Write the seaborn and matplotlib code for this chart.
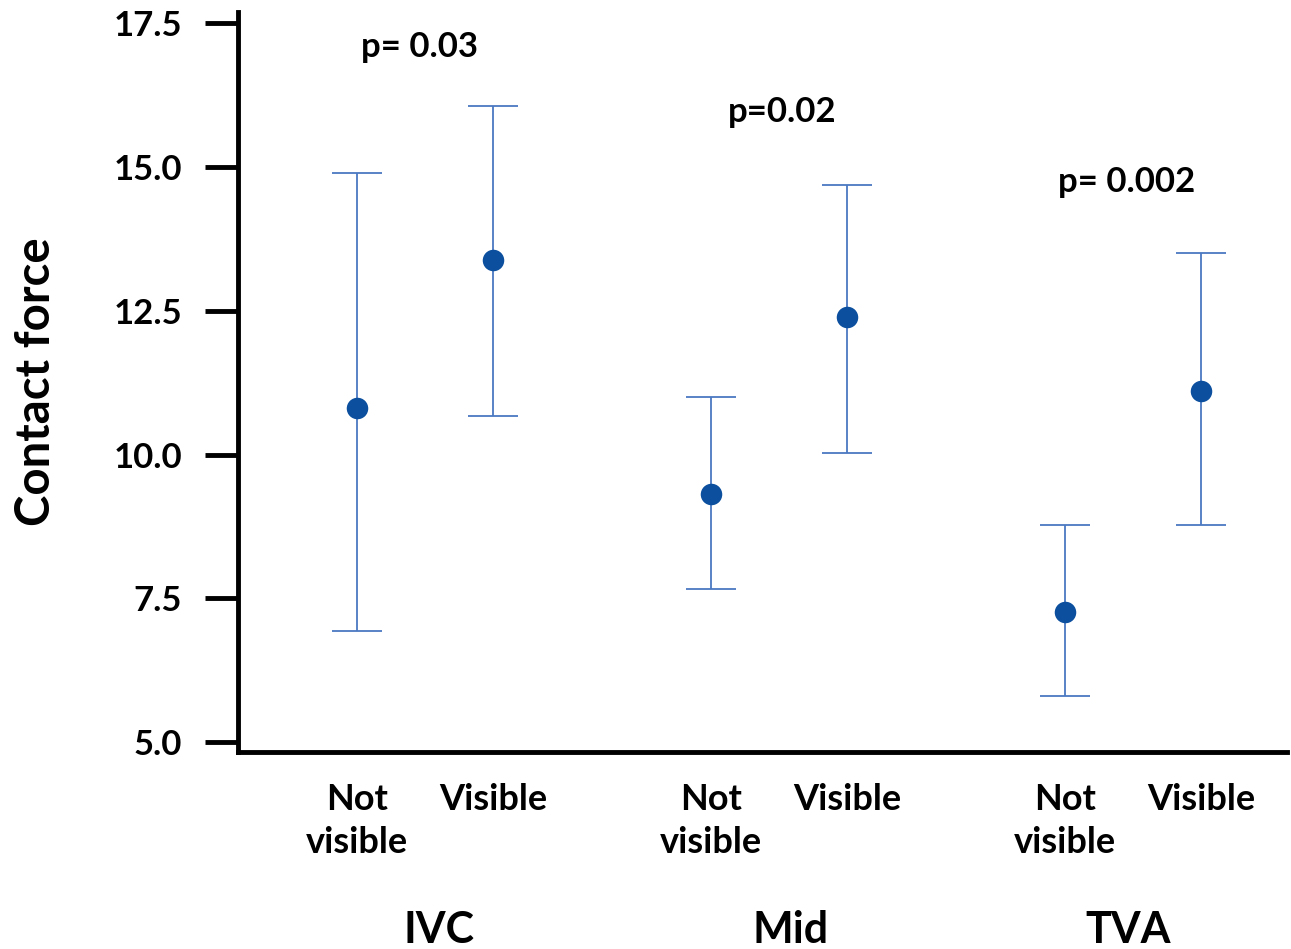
import matplotlib
matplotlib.use("Agg")
import matplotlib.pyplot as plt
import matplotlib.transforms as mtransforms
import numpy as np
import pandas as pd
import seaborn as sns

# values
groups = ["IVC", "Mid", "TVA"]
conditions = ["Not\nvisible", "Visible"]
means = [10.81, 13.39, 9.31, 12.39, 7.27, 11.10]
upper = [14.89, 16.06, 11.01, 14.68, 8.78, 13.50]
lower = [6.94, 10.68, 7.67, 10.02, 5.81, 8.78]
p_labels = ["p= 0.03", "p=0.02", "p= 0.002"]
y_ticks = [5.0, 7.5, 10.0, 12.5, 15.0, 17.5]

GROUP_GAP = 2.6
POINT_COLOR = "#0b4f9e"
BAR_COLOR = "#4a78c2"

sns.set_style("white")
plt.rcParams["font.family"] = ["Lato", "DejaVu Sans"]
plt.rcParams["font.weight"] = "bold"
for key in ["text.color", "axes.labelcolor", "xtick.color", "ytick.color"]:
    plt.rcParams[key] = "black"

# long table, one row per point
rows = []
for gi, g in enumerate(groups):
    for ci, c in enumerate(conditions):
        k = gi * 2 + ci
        rows.append({"group": g, "condition": c, "pos": gi * GROUP_GAP + ci,
                     "mean": means[k], "upper": upper[k], "lower": lower[k]})
df = pd.DataFrame(rows)

fig = plt.figure(figsize=(12.91, 9.49), dpi=100)
ax = fig.add_axes([0.184, 0.2076, 0.813, 0.7794])

ax.errorbar(df["pos"], df["mean"],
            yerr=[df["mean"] - df["lower"], df["upper"] - df["mean"]],
            fmt="none", ecolor=BAR_COLOR, elinewidth=1.3, capsize=18,
            capthick=1.3, zorder=2)
sns.scatterplot(data=df, x="pos", y="mean", ax=ax, color=POINT_COLOR,
                s=240, edgecolor=POINT_COLOR, linewidth=0, zorder=3,
                legend=False)

ax.set_xlim(-0.88, 6.83)
ax.set_ylim(4.83, 17.69)
ax.set_yticks(y_ticks)
ax.set_yticklabels([f"{t:.1f}" for t in y_ticks], fontsize=25, fontweight="bold")
ax.set_xticks(df["pos"])
ax.set_xticklabels(df["condition"], fontsize=26, fontweight="bold",
                   va="top", linespacing=1.38)
ax.tick_params(axis="x", length=0, pad=22)
ax.tick_params(axis="y", direction="out", length=24, width=3.5, pad=16,
               left=True, color="black")

for side in ["top", "right"]:
    ax.spines[side].set_visible(False)
for side in ["left", "bottom"]:
    ax.spines[side].set_linewidth(3.5)
    ax.spines[side].set_color("black")

ax.set_xlabel("")
ax.set_ylabel("Contact force", fontsize=34, fontweight="bold", labelpad=40)

# group names under the condition labels
trans = mtransforms.blended_transform_factory(ax.transData, ax.transAxes)
label_shift = [0.1, 0.08, -0.04]
for gi, g in enumerate(groups):
    ax.text(gi * GROUP_GAP + 0.5 + label_shift[gi], -0.24, g, transform=trans,
            ha="center", va="center", fontsize=31, fontweight="bold")

# p-value annotations
p_pos = [(0.456, 17.08), (3.12, 15.95), (5.65, 14.74)]
for (px, py), lab in zip(p_pos, p_labels):
    ax.text(px, py, lab, ha="center", va="center", fontsize=25,
            fontweight="bold")

fig.savefig("out.png", dpi=100)
